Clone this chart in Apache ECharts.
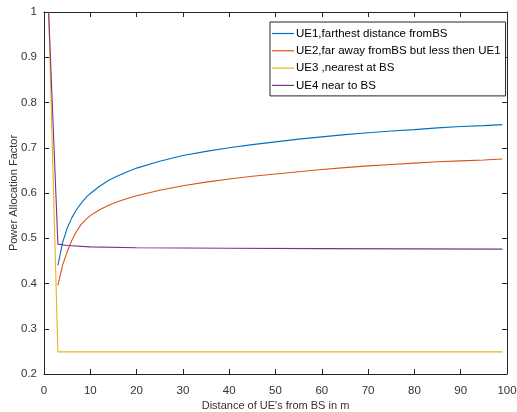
<!DOCTYPE html>
<html>
<head>
<meta charset="utf-8">
<script src="https://cdn.jsdelivr.net/npm/echarts@6/dist/echarts.min.js"></script>
<style>
html,body{margin:0;padding:0;background:#fff;}
#c{width:517px;height:412px;}
</style>
</head>
<body>
<div id="c"></div>
<script>
// Data
var seriesNames = ["UE1,farthest distance fromBS", "UE2,far away fromBS but less then UE1", "UE3 ,nearest at BS", "UE4 near to BS"];
var xNear = [3, 4, 5, 6, 7, 8, 9, 10, 12, 14, 16, 18, 20, 25, 30, 35, 40, 45, 50, 55, 60, 65, 70, 75, 80, 85, 90, 95, 99];
var ue1 = [0.44, 0.49, 0.522, 0.545, 0.563, 0.577, 0.589, 0.599, 0.615, 0.628, 0.638, 0.647, 0.655, 0.670, 0.683, 0.692, 0.700, 0.707, 0.713, 0.719, 0.724, 0.729, 0.733, 0.737, 0.740, 0.744, 0.747, 0.749, 0.751];
var ue2 = [0.396, 0.44, 0.47, 0.495, 0.515, 0.53, 0.541, 0.55, 0.563, 0.573, 0.581, 0.588, 0.594, 0.606, 0.616, 0.624, 0.631, 0.637, 0.642, 0.647, 0.652, 0.656, 0.660, 0.663, 0.666, 0.669, 0.671, 0.673, 0.675];
var xFull = [1, 3, 5, 10, 20, 40, 60, 80, 99];
var ue3 = [1.0, 0.249, 0.249, 0.249, 0.249, 0.249, 0.249, 0.249, 0.249];
var ue4 = [1.0, 0.487, 0.484, 0.481, 0.479, 0.478, 0.477, 0.4765, 0.476];
var xTicks = [0, 10, 20, 30, 40, 50, 60, 70, 80, 90, 100];
var yTicks = [0.2, 0.3, 0.4, 0.5, 0.6, 0.7, 0.8, 0.9, 1];
var colors = ["#0072BD", "#D95319", "#EDB120", "#7E2F8E"];

function pairs(xs, ys) { return xs.map(function (x, i) { return [x, ys[i]]; }); }

var chart = echarts.init(document.getElementById('c'), null, {renderer: 'canvas'});
var axisCol = '#262626';
var labCol = '#333333';
var font = 'Liberation Sans, Arial, Helvetica, sans-serif';
var commonX = {
  type: 'value', min: xTicks[0], max: xTicks[xTicks.length - 1], interval: 10,
  axisLine: {show: true, onZero: false, lineStyle: {color: axisCol, width: 1}},
  axisTick: {show: true, inside: true, length: 5, lineStyle: {color: axisCol}},
  splitLine: {show: false}
};
var commonY = {
  type: 'value', min: yTicks[0], max: yTicks[yTicks.length - 1], interval: 0.1,
  axisLine: {show: true, onZero: false, lineStyle: {color: axisCol, width: 1}},
  axisTick: {show: true, inside: true, length: 5, lineStyle: {color: axisCol}},
  splitLine: {show: false}
};
var mk = function (name, xs, ys, col) {
  return {
    name: name, type: 'line', data: pairs(xs, ys), showSymbol: false, symbol: 'none',
    lineStyle: {color: col, width: 1.1}, itemStyle: {color: col}, animation: false, z: 3
  };
};
chart.setOption({
  animation: false,
  textStyle: {fontFamily: font},
  grid: {left: 44, right: 10, top: 12, bottom: 38, containLabel: false, outerBoundsMode: 'none'},
  xAxis: [
    Object.assign({}, commonX, {
      position: 'bottom',
      axisLabel: {show: true, color: labCol, fontSize: 11.5, margin: 11, fontFamily: font},
      name: "Distance of UE's from BS in m", nameLocation: 'middle', nameGap: 26,
      nameMoveOverlap: false,
      nameTextStyle: {color: labCol, fontSize: 11, fontFamily: font}
    }),
    Object.assign({}, commonX, {position: 'top', axisLabel: {show: false}})
  ],
  yAxis: [
    Object.assign({}, commonY, {
      position: 'left',
      axisLabel: {show: true, color: labCol, fontSize: 11.5, margin: 7, fontFamily: font,
        formatter: function (v) { return String(+v.toFixed(1)); }},
      name: 'Power Allocation Factor', nameLocation: 'middle', nameGap: 25,
      nameMoveOverlap: false,
      nameTextStyle: {color: labCol, fontSize: 11, fontFamily: font}
    }),
    Object.assign({}, commonY, {position: 'right', axisLabel: {show: false}})
  ],
  legend: {
    orient: 'vertical', left: 270, top: 22,
    padding: [5, 5, 4, 2], itemGap: 4.3,
    itemWidth: 22, itemHeight: 1.2, icon: 'rect',
    borderColor: axisCol, borderWidth: 1, backgroundColor: '#fff',
    textStyle: {color: '#000', fontSize: 11.5, lineHeight: 13, fontFamily: font, padding: [0, 0, 0, -3]},
    data: seriesNames.map(function (n, i) { return {name: n, itemStyle: {color: colors[i]}}; })
  },
  series: [
    mk(seriesNames[0], xNear, ue1, colors[0]),
    mk(seriesNames[1], xNear, ue2, colors[1]),
    mk(seriesNames[2], xFull, ue3, colors[2]),
    mk(seriesNames[3], xFull, ue4, colors[3])
  ]
});
</script>
</body>
</html>
